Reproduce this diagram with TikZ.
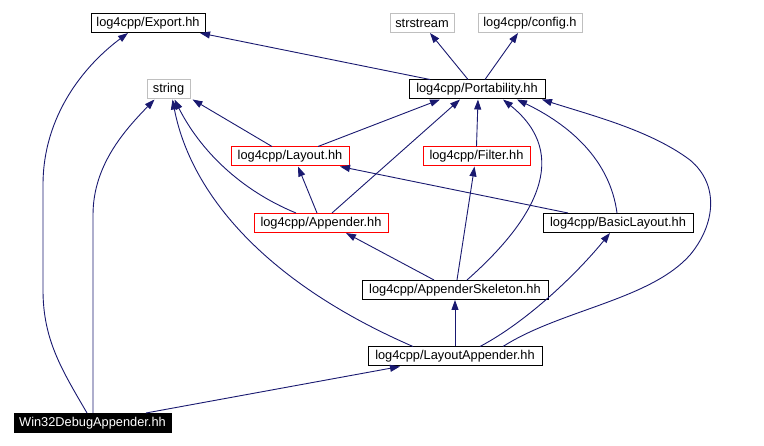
\documentclass[tikz,border=0pt]{standalone}
\usepackage{fontspec}
\setmainfont{Liberation Sans}
\usetikzlibrary{arrows.meta}
\definecolor{edgeblue}{RGB}{25,25,112}
\definecolor{sysgray}{RGB}{191,191,191}
\begin{document}
\begin{tikzpicture}[x=1pt,y=-1pt,
  every node/.style={font=\fontsize{12.8}{14}\selectfont},
  hdr/.style={draw=black,line width=1pt,inner sep=0pt,minimum height=19pt},
  syshdr/.style={hdr,draw=sysgray},
  redhdr/.style={hdr,draw=red},
  dep/.style={draw=edgeblue,line width=0.9pt,-{Triangle[length=10pt,width=7pt]}}]
\useasboundingbox (0,0) rectangle (764,446);
% header boxes
\node[hdr,minimum width=114pt] (export) at (148,23) {log4cpp/Export.hh};
\node[syshdr,minimum width=64pt] (strstream) at (422,23) {strstream};
\node[syshdr,minimum width=104pt] (config) at (530,23) {log4cpp/config.h};
\node[syshdr,minimum width=43pt] (string) at (168.5,89.5) {string};
\node[hdr,minimum width=136pt] (port) at (477,89.5) {log4cpp/Portability.hh};
\node[redhdr,minimum width=118pt] (layout) at (290,156.5) {log4cpp/Layout.hh};
\node[redhdr,minimum width=107pt] (filter) at (476.5,156.5) {log4cpp/Filter.hh};
\node[redhdr,minimum width=134pt] (appender) at (321,223) {log4cpp/Appender.hh};
\node[hdr,minimum width=150pt] (basic) at (618,223) {log4cpp/BasicLayout.hh};
\node[hdr,minimum width=186pt] (skel) at (455,290) {log4cpp/AppenderSkeleton.hh};
\node[hdr,minimum width=174pt] (lapp) at (455,356.5) {log4cpp/LayoutAppender.hh};
\node[hdr,fill=black,text=white,minimum width=157pt] (win) at (92.5,423) {Win32DebugAppender.hh};
% include edges
\draw[dep] ([xshift=-5.5pt]win.north) .. controls (62,370) and (43,340) .. (43,290) -- (43,185)
  .. controls (43,115) and (85,65) .. ([xshift=-20pt]export.south);
\draw[dep] ([xshift=0.5pt]win.north) -- (93,215) .. controls (93,165) and (125,130) .. ([xshift=-14pt]string.south);
\draw[dep] ([xshift=53.5pt]win.north) -- ([xshift=-55pt]lapp.south);
\draw[dep] ([xshift=-47pt]port.north) -- ([xshift=52pt]export.south);
\draw[dep] ([xshift=-9pt]port.north) -- ([xshift=8pt]strstream.south);
\draw[dep] ([xshift=8pt]port.north) -- ([xshift=-12pt]config.south);
\draw[dep] ([xshift=-18pt]layout.north) -- ([xshift=24pt]string.south);
\draw[dep] ([xshift=28pt]layout.north) -- ([xshift=-37pt]port.south);
\draw[dep] ([xshift=-25pt]appender.north) .. controls (240,190) and (200,150) .. ([xshift=6pt]string.south);
\draw[dep] ([xshift=-4pt]appender.north) -- ([xshift=8pt]layout.south);
\draw[dep] ([xshift=11pt]appender.north) -- ([xshift=-17pt]port.south);
\draw[dep] (filter.north) -- ([xshift=1pt]port.south);
\draw[dep] ([xshift=-50pt]basic.north) -- ([xshift=50pt]layout.south);
\draw[dep] ([xshift=-1pt]basic.north) .. controls (610,160) and (570,125) .. ([xshift=40pt]port.south);
\draw[dep] ([xshift=-21pt]skel.north) -- ([xshift=25pt]appender.south);
\draw[dep] ([xshift=2pt]skel.north) -- ([xshift=-2pt]filter.south);
\draw[dep] ([xshift=12pt]skel.north) .. controls (535,220) and (572,155) .. ([xshift=26pt]port.south);
\draw[dep] ([xshift=-42pt]lapp.north) .. controls (260,280) and (190,190) .. ([xshift=4pt]string.south);
\draw[dep] (lapp.north) -- (skel.south);
\draw[dep] ([xshift=25pt]lapp.north) .. controls (530,320) and (580,270) .. ([xshift=-8pt]basic.south);
\draw[dep] ([xshift=48pt]lapp.north) .. controls (560,310) and (650,300) .. (690,255)
  .. controls (715,225) and (720,185) .. (690,160) .. controls (650,130) and (590,115) .. ([xshift=65pt]port.south);
\end{tikzpicture}
\end{document}
